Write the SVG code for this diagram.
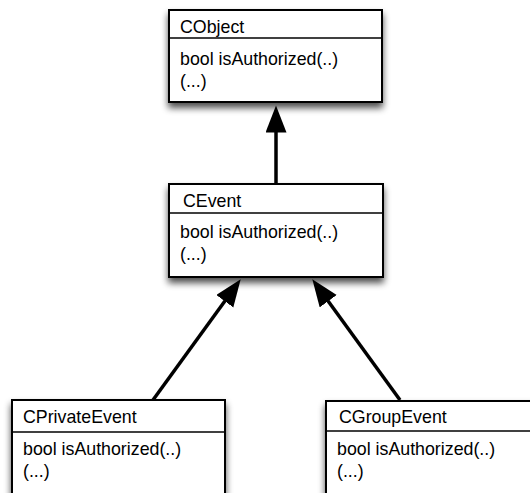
<svg xmlns="http://www.w3.org/2000/svg" width="530" height="493" viewBox="0 0 530 493">
<style>
.box{fill:#fff;stroke:#000;stroke-width:2}
.div{stroke:#000;stroke-width:1.5}
.t{font-family:"Liberation Sans",Arial,sans-serif;font-size:17.8px;fill:#000}
.edge{stroke:#000;stroke-width:3.5;fill:none}
</style>
<defs>
<filter id="sh" x="-10%" y="-20%" width="120%" height="150%">
<feGaussianBlur in="SourceAlpha" stdDeviation="3.5"/>
<feOffset dx="0" dy="5" result="b"/>
<feComponentTransfer><feFuncA type="linear" slope="0.7"/></feComponentTransfer>
<feMerge><feMergeNode/><feMergeNode in="SourceGraphic"/></feMerge>
</filter>
<marker id="ah" markerUnits="userSpaceOnUse" markerWidth="28" markerHeight="22" refX="0.5" refY="10.5" orient="auto">
<path d="M0,0 L27,10.5 L0,21 z" fill="#000"/>
</marker>
</defs>
<rect width="530" height="493" fill="#fff"/>
<g id="connectors">
<line class="edge" x1="276" y1="184" x2="276" y2="132" marker-end="url(#ah)"/>
<line class="edge" x1="153" y1="400" x2="225.1" y2="300.8" marker-end="url(#ah)"/>
<line class="edge" x1="400" y1="400" x2="327.9" y2="300.8" marker-end="url(#ah)"/>
</g>
<g id="CObject">
<rect class="box" x="169" y="10" width="213" height="92" filter="url(#sh)"/>
<line class="div" x1="169" y1="38" x2="382" y2="38"/>
<text class="t" x="180" y="33">CObject</text>
<text class="t" x="180" y="64.5">bool isAuthorized(..)</text>
<text class="t" x="180" y="87">(...)</text>
</g>
<g id="CEvent">
<rect class="box" x="169" y="184" width="214" height="93" filter="url(#sh)"/>
<line class="div" x1="169" y1="213" x2="383" y2="213"/>
<text class="t" x="183" y="207">CEvent</text>
<text class="t" x="180" y="238">bool isAuthorized(..)</text>
<text class="t" x="180" y="260">(...)</text>
</g>
<g id="CPrivateEvent">
<rect class="box" x="12" y="400" width="213" height="105" filter="url(#sh)"/>
<line class="div" x1="12" y1="432" x2="225" y2="432"/>
<text class="t" x="23" y="423">CPrivateEvent</text>
<text class="t" x="23" y="455">bool isAuthorized(..)</text>
<text class="t" x="23" y="477">(...)</text>
</g>
<g id="CGroupEvent">
<rect class="box" x="326" y="401" width="213" height="104" filter="url(#sh)"/>
<line class="div" x1="326" y1="431" x2="539" y2="431"/>
<text class="t" x="339" y="423">CGroupEvent</text>
<text class="t" x="337" y="455">bool isAuthorized(..)</text>
<text class="t" x="337" y="477">(...)</text>
</g>
</svg>
